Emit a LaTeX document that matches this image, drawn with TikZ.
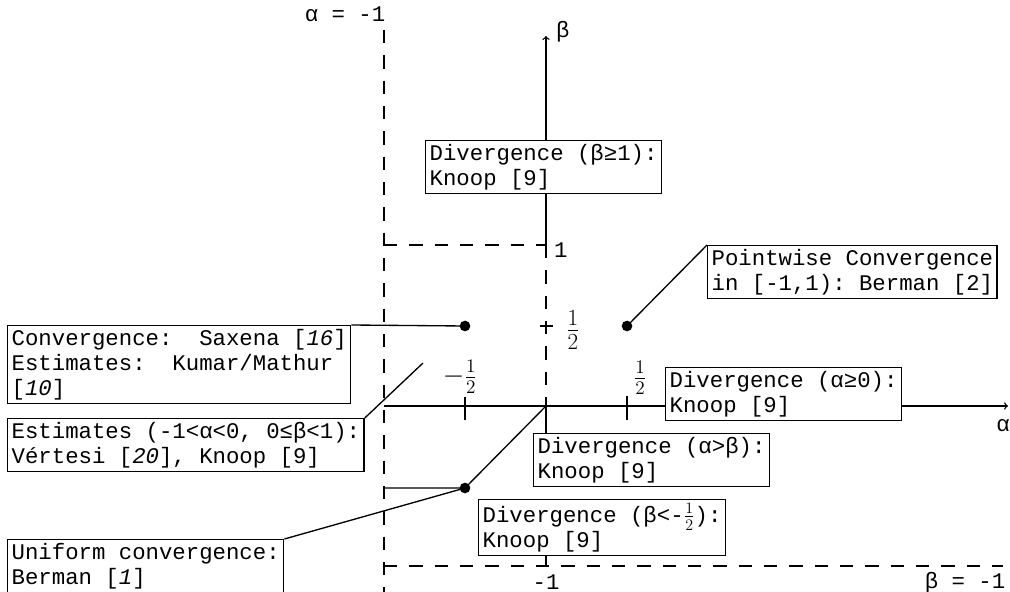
\documentclass[tikz,border=0pt]{standalone}
\usepackage{fontspec}
\setmainfont{Liberation Mono}
\usetikzlibrary{arrows,positioning,calc}

\tikzset{
  result/.style={draw, fill=white, anchor=north west, align=left, inner xsep=3pt, inner ysep=2.5pt, font=\fontsize{16.75}{19}\selectfont},
  bound/.style={dash pattern=on 10pt off 9pt},
  dot/.style={circle, fill=black, inner sep=0pt, minimum size=8pt},
  lbl/.style={font=\fontsize{16.75}{19}\selectfont},
  frac/.style={font=\fontsize{20}{22}\selectfont, inner sep=1pt},
}

\begin{document}
\frenchspacing
\begin{tikzpicture}[x=0.75pt, y=-0.75pt, line width=1pt]
        \useasboundingbox (0,0) rectangle (1010,592);

        % Boundary lines
        \draw[bound] (384,30) -- (384,592);
        \draw[bound] (384,566) -- (1003,566);
        \draw[bound] (384,245) -- (546,245);
        \draw[bound] (546,245) -- (546,406);
        \node[lbl] (alim) at (345,14) {α = -1};
        \node[lbl] (blim) at (965,583) {β = -1};

        % Axes
        \coordinate (origin) at (546,406);
        \draw[->] (384,406) -- (1008,406);
        \node[lbl] (alabel) at (1003,426) {α};
        \draw[->] (546,245) -- (546,36);
        \node[lbl, anchor=west] (blabel) at (551,32) {β};

        % Ticks
        \draw (465,397) -- (465,420);
        \draw (627,396) -- (627,420);
        \draw (540,326) -- (553,326);
        \node[frac] (mhalf) at (460,377) {$-\frac{1}{2}$};
        \node[frac] (phalf) at (640,378) {$\frac{1}{2}$};
        \node[frac, font=\fontsize{25}{28}\selectfont] (bhalf) at (573,330) {$\frac{1}{2}$};
        \node[lbl, anchor=west] (bone) at (549,250) {1};
        \node[lbl] (bmone) at (546,582) {-1};

        % Results
        \node[result] (divbeta) at (425,140) {Divergence (β≥1):\\Knoop [9]};
        \node[result] (pointwise) at (707,245) {Pointwise Convergence\\in [-1,1): Berman [2]};
        \node[result] (saxena) at (7,325) {Convergence:\ \ Saxena [\textit{16}]\\Estimates:\ \ Kumar/Mathur\\{[}\textit{10}]};
        \node[result] (divalpha) at (665,367) {Divergence (α≥0):\\Knoop [9]};
        \node[result] (vertesi) at (7,418) {Estimates (-1<α<0, 0≤β<1):\\Vértesi [\textit{20}], Knoop [9]};
        \node[result] (divdiff) at (533,433) {Divergence (α>β):\\Knoop [9]};
        \node[result] (divhalf) at (478,499) {Divergence (β<-$\frac{1}{2}$):\\Knoop [9]};
        \node[result] (uniform) at (7,539) {Uniform convergence:\\Berman [\textit{1}]};

        % beta axis below the origin
        \draw (origin) -- (origin |- divdiff.north);
        \draw (divhalf.south -| origin) -- (546,566);

        % Points and connectors
        \node[dot] (dotul) at (465,326) {};
        \node[dot] (dotur) at (627,326) {};
        \node[dot] (dotll) at (465,488) {};
        \coordinate (edgell) at (384,488);
        \coordinate (vtip) at (423,363);
        \draw (saxena.north east) -- (dotul.center);
        \draw (pointwise.north west) -- (dotur.center);
        \draw (uniform.north east) -- (dotll.center);
        \draw (edgell) -- (dotll.center) -- (origin);
        \draw (vertesi.north east) -- (vtip);
    \end{tikzpicture}
\end{document}
